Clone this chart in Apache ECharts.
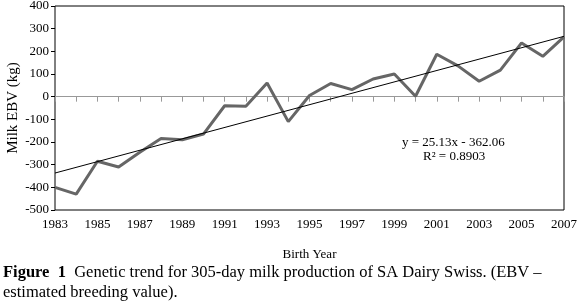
<!DOCTYPE html>
<html>
<head>
<meta charset="utf-8">
<script src="https://cdn.jsdelivr.net/npm/echarts@6/dist/echarts.min.js"></script>
<style>
  html, body { margin: 0; padding: 0; background: #fff; }
  #chart { width: 580px; height: 307px; }
</style>
</head>
<body>
<div id="chart"></div>
<script>
  // birth years and milk EBV (kg)
  var years = ['1983', '1984', '1985', '1986', '1987', '1988', '1989', '1990', '1991', '1992',
               '1993', '1994', '1995', '1996', '1997', '1998', '1999', '2000', '2001', '2002',
               '2003', '2004', '2005', '2006', '2007'];
  var milkEbv = [-400, -430, -285, -310, -245, -185, -190, -165, -40, -42,
                 60, -110, 5, 58, 31, 78, 100, 2, 187, 136,
                 68, 117, 237, 178, 264];
  // linear trend from the equation printed on the chart
  var slope = 25.13;
  var intercept = -362.06;
  var yTicks = [-500, 400, 100]; // min, max, step

  var trend = years.map(function (y, i) {
    if (i === 0 || i === years.length - 1) {
      return +(slope * (i + 1) + intercept).toFixed(2);
    }
    return null;
  });

  var font = '"Liberation Serif", "Times New Roman", serif';
  var myChart = echarts.init(document.getElementById('chart'));
  myChart.setOption({
    animation: false,
    backgroundColor: '#fff',
    textStyle: { fontFamily: font },
    grid: {
      left: 55, right: 16, top: 6, bottom: 97,
      containLabel: false,
      outerBoundsMode: 'none',
      show: true,
      borderColor: '#000',
      borderWidth: 1
    },
    xAxis: [
      {
        type: 'category',
        data: years,
        boundaryGap: false,
        position: 'bottom',
        axisLine: { show: false, onZero: false },
        axisTick: { show: false },
        axisLabel: { interval: 1, color: '#000', fontSize: 13, fontFamily: font, margin: 8 },
        name: 'Birth Year',
        nameLocation: 'middle',
        nameGap: 38,
        nameTextStyle: { color: '#000', fontSize: 13, fontFamily: font }
      },
      {
        type: 'category',
        data: years,
        boundaryGap: false,
        position: 'top',
        axisLine: { show: true, onZero: true, lineStyle: { color: '#999', width: 1 } },
        axisTick: { show: true, inside: true, interval: 0, length: 5, lineStyle: { color: '#999' } },
        axisLabel: { show: false }
      }
    ],
    yAxis: {
      type: 'value',
      min: yTicks[0],
      max: yTicks[1],
      interval: yTicks[2],
      axisLine: { show: false },
      axisTick: { show: true, length: 4, lineStyle: { color: '#000' } },
      splitLine: { show: false },
      axisLabel: { color: '#000', fontSize: 13, fontFamily: font, margin: 6 },
      name: 'Milk EBV (kg)',
      nameLocation: 'middle',
      nameGap: 34,
      nameMoveOverlap: false,
      nameRotate: 90,
      nameTextStyle: { color: '#000', fontSize: 15, fontFamily: font }
    },
    series: [
      {
        name: 'Milk EBV',
        type: 'line',
        data: milkEbv,
        symbol: 'none',
        lineStyle: { color: '#666', width: 3 },
        z: 2
      },
      {
        name: 'Trend',
        type: 'line',
        data: trend,
        connectNulls: true,
        symbol: 'none',
        lineStyle: { color: '#000', width: 1 },
        z: 3
      }
    ],
    graphic: [
      {
        type: 'text',
        left: 402, top: 136,
        style: { text: 'y = 25.13x - 362.06', font: '13px ' + font, fill: '#000' }
      },
      {
        type: 'text',
        left: 423, top: 150,
        style: { text: 'R² = 0.8903', font: '13px ' + font, fill: '#000' }
      },
      {
        type: 'text',
        left: 3, top: 263,
        style: {
          text: '{b|Figure  1}  Genetic trend for 305-day milk production of SA Dairy Swiss. (EBV –\nestimated breeding value).',
          font: '16.5px ' + font,
          fill: '#000',
          lineHeight: 20,
          rich: {
            b: { font: 'bold 16.5px ' + font, fill: '#000' }
          }
        }
      }
    ]
  });
</script>
</body>
</html>
